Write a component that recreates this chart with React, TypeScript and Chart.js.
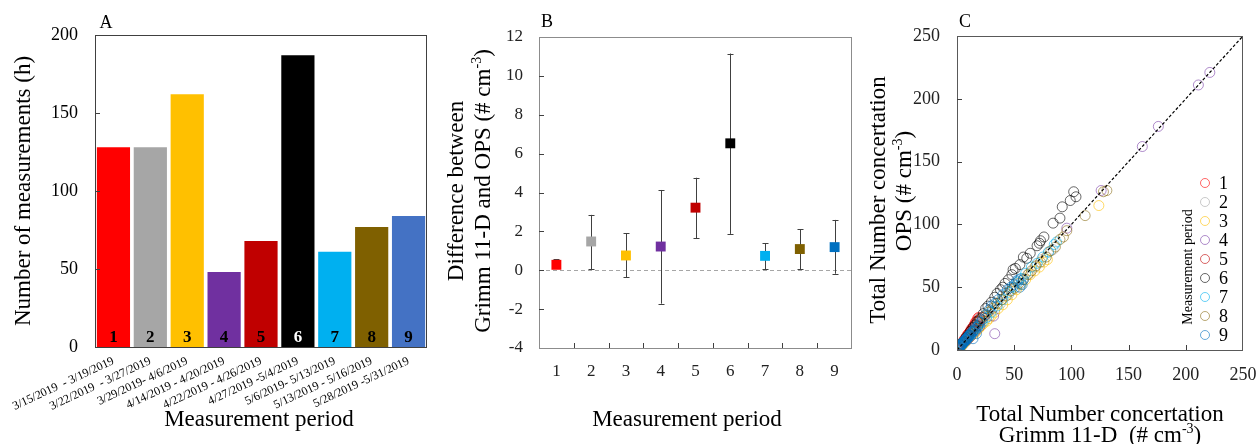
import React, { useEffect, useRef } from "react";
import { Chart, registerables } from "chart.js";
Chart.register(...registerables);

const W = 1259;
const H = 444;
const FONT = "'Liberation Serif', 'Times New Roman', serif";

// ---------- Data ----------
const periods = ["1", "2", "3", "4", "5", "6", "7", "8", "9"];
const dateLabels = [
  "3/15/2019  - 3/19/2019",
  "3/22/2019  - 3/27/2019",
  "3/29/2019- 4/6/2019",
  "4/14/2019 - 4/20/2019",
  "4/22/2019 - 4/26/2019",
  "4/27/2019 -5/4/2019",
  "5/6/2019- 5/13/2019",
  "5/13/2019 - 5/16/2019",
  "5/28/2019 -5/31/2019",
];
const hours = [128, 128, 162, 48, 68, 187, 61, 77, 84];
const barColors = ["#FF0000", "#A6A6A6", "#FFC000", "#7030A0", "#C00000", "#000000", "#00B0F0", "#7F6000", "#4472C4"];
const barNumberColors = ["#000", "#000", "#000", "#000", "#000", "#fff", "#000", "#000", "#000"];

const diffMean = [0.28, 1.48, 0.76, 1.22, 3.22, 6.53, 0.74, 1.09, 1.19];
const diffLow = [0.1, 0.05, -0.37, -1.72, 1.65, 1.87, 0.05, 0.05, -0.18];
const diffHigh = [0.57, 2.85, 1.91, 4.13, 4.76, 11.15, 1.4, 2.11, 2.59];
const diffColors = ["#FF0000", "#A6A6A6", "#FFC000", "#7030A0", "#C00000", "#000000", "#00B0F0", "#7F6000", "#0070C0"];

const ticksA = [0, 50, 100, 150, 200];
const ticksB = [-4, -2, 0, 2, 4, 6, 8, 10, 12];
const ticksC = [0, 50, 100, 150, 200, 250];

// Panel C: [Grimm 11-D, OPS] pairs per measurement period
const period1: [number, number][] = [[3, 4], [4, 5], [5, 6], [6, 8], [7, 9], [8, 10], [9, 12], [10, 13], [11, 14], [12, 16], [13, 17], [14, 18], [15, 20], [16, 22], [17, 23], [18, 25], [19, 26]];
const period2: [number, number][] = [[0.5, 0], [1, 0.5], [1, 1], [2, 1], [2, 2], [3, 3], [4, 3], [5, 5], [6, 6], [7, 6], [8, 8], [10, 9], [12, 11], [14, 13], [16, 15], [18, 17], [20, 19], [24, 23], [28, 27], [33, 32], [38, 37], [45, 44], [52, 50], [58, 57], [63, 61], [68, 66], [74, 72], [80, 78], [84, 80]];
const period3: [number, number][] = [[3, 2], [5, 4], [7, 6], [9, 8], [11, 10], [13, 12], [15, 13], [17, 15], [19, 17], [21, 19], [23, 21], [26, 23], [28, 25], [30, 27], [33, 30], [36, 33], [40, 36], [44, 40], [48, 44], [52, 48], [56, 52], [60, 56], [64, 60], [68, 63], [72, 66], [76, 70], [79, 72], [124, 115]];
const period4: [number, number][] = [[2, 2], [4, 4], [6, 6], [9, 8], [12, 11], [16, 15], [20, 19], [32, 27], [33, 13], [96, 97], [126, 127], [162, 162], [176, 178], [211, 211], [221, 221]];
const period5: [number, number][] = [[3, 4], [5, 6], [6, 7], [8, 10], [10, 12], [12, 15], [14, 17], [16, 20], [18, 22], [20, 24], [22, 26]];
const period6: [number, number][] = [[2, 2], [4, 5], [6, 7], [8, 10], [10, 12], [12, 15], [14, 18], [16, 20], [18, 23], [20, 25], [23, 29], [25, 33], [27, 35], [30, 38], [33, 42], [35, 45], [38, 48], [40, 50], [42, 53], [45, 56], [48, 60], [49, 64], [51, 65], [55, 68], [58, 74], [61, 73], [64, 77], [70, 83], [72, 85], [73, 87], [76, 90], [84, 101], [90, 105], [92, 114], [99, 119], [102, 126], [104, 122]];
const period7: [number, number][] = [[3, 3], [5, 5], [8, 8], [11, 11], [14, 14], [18, 18], [22, 22], [26, 26], [30, 30], [35, 35], [40, 40], [45, 46], [49, 50], [53, 54], [56, 57], [60, 61], [65, 66], [70, 69], [75, 74], [80, 78], [85, 84], [87, 86]];
const period8: [number, number][] = [[4, 4], [7, 7], [10, 11], [14, 15], [17, 19], [20, 23], [24, 27], [27, 30], [31, 33], [35, 37], [39, 40], [43, 43], [47, 47], [50, 49], [54, 53], [58, 56], [62, 60], [65, 63], [69, 67], [73, 70], [78, 74], [82, 79], [86, 82], [90, 88], [93, 90], [96, 95], [112, 107], [128, 126], [131, 127]];
const period9: [number, number][] = [[0.5, 1], [1, 1.5], [1.5, 2], [2, 2], [2, 3], [3, 3], [3, 4], [4, 4], [4, 5], [5, 5], [5, 6], [6, 6], [6, 7], [7, 7], [7, 8], [8, 8], [8, 9], [9, 9], [9, 10], [10, 10], [10, 11], [11, 12], [12, 12], [12, 13], [13, 14], [14, 15], [15, 16], [16, 16], [16, 18], [18, 19], [19, 20], [20, 22], [17, 13], [14, 9], [22, 24], [25, 28], [28, 32], [30, 35], [33, 37], [36, 40], [40, 44], [44, 48], [47, 50], [50, 52], [52, 55], [54, 56], [55, 50], [56, 53], [57, 52], [58, 56]];
const scatterSeries = [period1, period2, period3, period4, period5, period6, period7, period8, period9];
const scatterColors = [
  "rgba(255,0,0,0.6)", "rgba(166,166,166,0.6)", "rgba(255,192,0,0.6)", "rgba(112,48,160,0.55)", "rgba(192,0,0,0.6)",
  "rgba(0,0,0,0.6)", "rgba(0,176,240,0.6)", "rgba(127,96,0,0.55)", "rgba(0,112,192,0.6)",
];
const diagonal = [{ x: 0, y: 0 }, { x: 250, y: 250 }];

// ---------- Helpers ----------
type Seg = { t: string; sup?: boolean };
type TextItem = { segs: Seg[]; x: number; y: number; size: number; rot?: number; bold?: boolean; color?: string };

function drawRich(ctx: CanvasRenderingContext2D, it: TextItem) {
  const w = it.bold ? "bold " : "";
  const main = `${w}${it.size}px ${FONT}`;
  const sup = `${w}${Math.round(it.size * 0.62)}px ${FONT}`;
  ctx.save();
  ctx.translate(it.x, it.y);
  ctx.rotate(it.rot || 0);
  ctx.fillStyle = it.color || "#000";
  ctx.textAlign = "left";
  ctx.textBaseline = "alphabetic";
  let total = 0;
  for (const s of it.segs) {
    ctx.font = s.sup ? sup : main;
    total += ctx.measureText(s.t).width;
  }
  let cx = -total / 2;
  for (const s of it.segs) {
    ctx.font = s.sup ? sup : main;
    ctx.fillText(s.t, cx, s.sup ? it.size * 0.35 - it.size * 0.38 : it.size * 0.35);
    cx += ctx.measureText(s.t).width;
  }
  ctx.restore();
}

const textPlugin = (id: string, items: TextItem[]) => ({
  id,
  afterDraw(chart: any) {
    items.forEach((it) => drawRich(chart.ctx, it));
  },
});

const framePlugin = (id: string, color: string) => ({
  id,
  afterDatasetsDraw(chart: any) {
    const { ctx, chartArea: a } = chart;
    ctx.save();
    ctx.strokeStyle = color;
    ctx.lineWidth = 1;
    ctx.strokeRect(Math.round(a.left) + 0.5, Math.round(a.top) + 0.5, Math.round(a.right - a.left) - 1, Math.round(a.bottom - a.top));
    ctx.restore();
  },
});

const innerTicksPlugin = (id: string, xVals: number[] | null, yVals: number[] | null, color: string, len: number, xBetween = false) => ({
  id,
  afterDatasetsDraw(chart: any) {
    const { ctx, chartArea: a, scales } = chart;
    ctx.save();
    ctx.strokeStyle = color;
    ctx.lineWidth = 1;
    ctx.beginPath();
    if (xVals) {
      xVals.forEach((v, i) => {
        let px: number;
        if (xBetween) px = (scales.x.getPixelForValue(i) + scales.x.getPixelForValue(i + 1)) / 2;
        else px = scales.x.getPixelForValue(v);
        px = Math.round(px) + 0.5;
        ctx.moveTo(px, a.bottom);
        ctx.lineTo(px, a.bottom - len);
      });
    }
    if (yVals) {
      yVals.forEach((v) => {
        const py = Math.round(scales.y.getPixelForValue(v)) + 0.5;
        ctx.moveTo(a.left, py);
        ctx.lineTo(a.left + len, py);
      });
    }
    ctx.stroke();
    ctx.restore();
  },
});

const fixY = (width: number) => (s: any) => {
  s.width = width;
  s.paddingTop = 0;
  s.paddingBottom = 0;
};
const fixX = (height: number) => (s: any) => {
  s.height = height;
  s.paddingLeft = 0;
  s.paddingRight = 0;
};

const noGrid = { display: false, drawTicks: false };
const noBorder = { display: false };

export default function App() {
  const refA = useRef<HTMLCanvasElement>(null);
  const refB = useRef<HTMLCanvasElement>(null);
  const refC = useRef<HTMLCanvasElement>(null);

  useEffect(() => {
    document.body.style.margin = "0";
    document.body.style.background = "#fff";

    // ----- Panel A -----
    const A = { l: 95, r: 427, t: 35, b: 347 };
    const barNumbers = {
      id: "barNumbers",
      afterDatasetsDraw(chart: any) {
        const meta = chart.getDatasetMeta(0);
        const ctx = chart.ctx;
        ctx.save();
        ctx.font = `bold 17px ${FONT}`;
        ctx.textAlign = "center";
        ctx.textBaseline = "middle";
        meta.data.forEach((el: any, i: number) => {
          ctx.fillStyle = barNumberColors[i];
          ctx.fillText(periods[i], el.x, chart.chartArea.bottom - 9);
        });
        ctx.restore();
      },
    };
    const chartA = new Chart(refA.current!, {
      type: "bar",
      data: {
        labels: dateLabels,
        datasets: [{ data: hours, backgroundColor: barColors, barPercentage: 0.9, categoryPercentage: 1, borderWidth: 0 }],
      },
      options: {
        animation: false,
        responsive: false,
        devicePixelRatio: 1,
        layout: { padding: { left: A.l - 80, top: A.t, right: W - A.r, bottom: H - A.b - 70 } },
        plugins: { legend: { display: false }, tooltip: { enabled: false } },
        scales: {
          x: {
            grid: noGrid,
            border: noBorder,
            ticks: { font: { family: FONT, size: 12 }, color: "#000", minRotation: 25, maxRotation: 25, autoSkip: false, padding: 7 },
            afterFit: fixX(70),
          },
          y: {
            min: 0,
            max: 200,
            afterBuildTicks: (s: any) => { s.ticks = ticksA.map((v) => ({ value: v })); },
            grid: noGrid,
            border: noBorder,
            ticks: { font: { family: FONT, size: 18 }, color: "#000", padding: 17 },
            afterFit: fixY(80),
          },
        },
      } as any,
      plugins: [
        barNumbers,
        framePlugin("frameA", "#404040"),
        innerTicksPlugin("ticksA", null, ticksA.slice(1, -1), "#404040", 5),
        textPlugin("textA", [
          { segs: [{ t: "A" }], x: 106, y: 22, size: 18 },
          { segs: [{ t: "Number of measurements (h)" }], x: 22, y: 191, size: 23, rot: -Math.PI / 2 },
          { segs: [{ t: "Measurement period" }], x: 259, y: 418, size: 23 },
        ]),
      ],
    });

    // ----- Panel B -----
    const B = { l: 539, r: 852, t: 37, b: 348 };
    const errorBars = {
      id: "errorBars",
      beforeDatasetsDraw(chart: any) {
        const { ctx, scales, chartArea: a } = chart;
        ctx.save();
        const y0 = Math.round(scales.y.getPixelForValue(0)) + 0.5;
        ctx.strokeStyle = "#A6A6A6";
        ctx.setLineDash([4, 3]);
        ctx.beginPath();
        ctx.moveTo(a.left, y0);
        ctx.lineTo(a.right, y0);
        ctx.stroke();
        ctx.setLineDash([]);
        ctx.strokeStyle = "#404040";
        ctx.lineWidth = 1;
        ctx.beginPath();
        diffMean.forEach((_, i) => {
          const x = Math.round(scales.x.getPixelForValue(i)) + 0.5;
          const yl = scales.y.getPixelForValue(diffLow[i]);
          const yh = scales.y.getPixelForValue(diffHigh[i]);
          ctx.moveTo(x, yl);
          ctx.lineTo(x, yh);
          ctx.moveTo(x - 3, Math.round(yl) + 0.5);
          ctx.lineTo(x + 3, Math.round(yl) + 0.5);
          ctx.moveTo(x - 3, Math.round(yh) + 0.5);
          ctx.lineTo(x + 3, Math.round(yh) + 0.5);
        });
        ctx.stroke();
        ctx.restore();
      },
    };
    const chartB = new Chart(refB.current!, {
      type: "line",
      data: {
        labels: periods,
        datasets: [
          {
            data: diffMean,
            showLine: false,
            pointStyle: "rect",
            pointRadius: 7,
            pointBackgroundColor: diffColors,
            pointBorderWidth: 0,
            borderWidth: 0,
          },
        ],
      },
      options: {
        animation: false,
        responsive: false,
        devicePixelRatio: 1,
        layout: { padding: { left: B.l - 60, top: B.t, right: W - B.r, bottom: H - B.b - 40 } },
        plugins: { legend: { display: false }, tooltip: { enabled: false } },
        scales: {
          x: {
            type: "category",
            offset: true,
            grid: noGrid,
            border: noBorder,
            ticks: { font: { family: FONT, size: 17 }, color: "#222", padding: 13 },
            afterFit: fixX(40),
          },
          y: {
            min: -4,
            max: 12,
            afterBuildTicks: (s: any) => { s.ticks = ticksB.map((v) => ({ value: v })); },
            grid: noGrid,
            border: noBorder,
            ticks: { font: { family: FONT, size: 17 }, color: "#222", padding: 16 },
            afterFit: fixY(60),
          },
        },
      } as any,
      plugins: [
        errorBars,
        framePlugin("frameB", "#8C8C8C"),
        innerTicksPlugin("ticksB", periods.slice(0, 8).map((_, i) => i), ticksB.slice(1, -1), "#404040", 5, true),
        textPlugin("textB", [
          { segs: [{ t: "B" }], x: 547, y: 21, size: 18 },
          { segs: [{ t: "Difference between" }], x: 455, y: 191, size: 23, rot: -Math.PI / 2 },
          { segs: [{ t: "Grimm 11-D and OPS (# cm" }, { t: "-3", sup: true }, { t: ")" }], x: 482, y: 191, size: 23, rot: -Math.PI / 2 },
          { segs: [{ t: "Measurement period" }], x: 687, y: 418, size: 23 },
        ]),
      ],
    });

    // ----- Panel C -----
    const C = { l: 957, r: 1243, t: 36, b: 350 };
    const legendC = {
      id: "legendC",
      afterDatasetsDraw(chart: any) {
        const ctx = chart.ctx;
        const a = chart.chartArea;
        ctx.save();
        const cx = a.right - 38;
        const y0 = 183;
        const dy = 19;
        periods.forEach((p, i) => {
          ctx.strokeStyle = scatterColors[i];
          ctx.lineWidth = 1;
          ctx.beginPath();
          ctx.arc(cx, y0 + i * dy, 4.5, 0, Math.PI * 2);
          ctx.stroke();
          ctx.fillStyle = "#000";
          ctx.font = `18px ${FONT}`;
          ctx.textAlign = "left";
          ctx.textBaseline = "middle";
          ctx.fillText(p, cx + 14, y0 + i * dy + 1);
        });
        ctx.restore();
        drawRich(ctx, { segs: [{ t: "Measurement period" }], x: cx - 18, y: 267, size: 14, rot: -Math.PI / 2 });
      },
    };
    const chartC = new Chart(refC.current!, {
      type: "scatter",
      data: {
        datasets: [
          {
            type: "line",
            data: diagonal,
            borderColor: "#000",
            borderWidth: 1.2,
            borderDash: [3, 2],
            pointRadius: 0,
            order: 0,
          } as any,
          ...scatterSeries.map((s, i) => ({
            data: s.map(([x, y]) => ({ x, y })),
            borderColor: scatterColors[i],
            backgroundColor: "rgba(0,0,0,0)",
            pointRadius: 5,
            pointBorderWidth: 1,
            order: 10 - i,
          })),
        ],
      },
      options: {
        animation: false,
        responsive: false,
        devicePixelRatio: 1,
        layout: { padding: { left: C.l - 60, top: C.t, right: W - C.r, bottom: H - C.b - 40 } },
        plugins: { legend: { display: false }, tooltip: { enabled: false } },
        scales: {
          x: {
            type: "linear",
            min: 0,
            max: 250,
            afterBuildTicks: (s: any) => { s.ticks = ticksC.map((v) => ({ value: v })); },
            grid: noGrid,
            border: noBorder,
            ticks: { font: { family: FONT, size: 18 }, color: "#222", padding: 14 },
            afterFit: fixX(40),
          },
          y: {
            type: "linear",
            min: 0,
            max: 250,
            afterBuildTicks: (s: any) => { s.ticks = ticksC.map((v) => ({ value: v })); },
            grid: noGrid,
            border: noBorder,
            ticks: { font: { family: FONT, size: 18 }, color: "#222", padding: 17 },
            afterFit: fixY(60),
          },
        },
      } as any,
      plugins: [
        framePlugin("frameC", "#595959"),
        innerTicksPlugin("ticksC", ticksC.slice(1, -1), ticksC.slice(1, -1), "#404040", 5),
        legendC,
        textPlugin("textC", [
          { segs: [{ t: "C" }], x: 965, y: 21, size: 18 },
          { segs: [{ t: "Total Number concertation" }], x: 877, y: 200, size: 23, rot: -Math.PI / 2 },
          { segs: [{ t: "OPS (# cm" }, { t: "-3", sup: true }, { t: ")" }], x: 903, y: 191, size: 23, rot: -Math.PI / 2 },
          { segs: [{ t: "Total Number concertation" }], x: 1100, y: 413, size: 23 },
          { segs: [{ t: "Grimm 11-D  (# cm" }, { t: "-3", sup: true }, { t: ")" }], x: 1100, y: 434, size: 23 },
        ]),
      ],
    });

    return () => {
      chartA.destroy();
      chartB.destroy();
      chartC.destroy();
    };
  }, []);

  const cs: React.CSSProperties = { position: "absolute", left: 0, top: 0 };
  return (
    <div style={{ position: "relative", width: W, height: H, background: "#fff" }}>
      <canvas ref={refA} width={W} height={H} style={cs} />
      <canvas ref={refB} width={W} height={H} style={cs} />
      <canvas ref={refC} width={W} height={H} style={cs} />
    </div>
  );
}
